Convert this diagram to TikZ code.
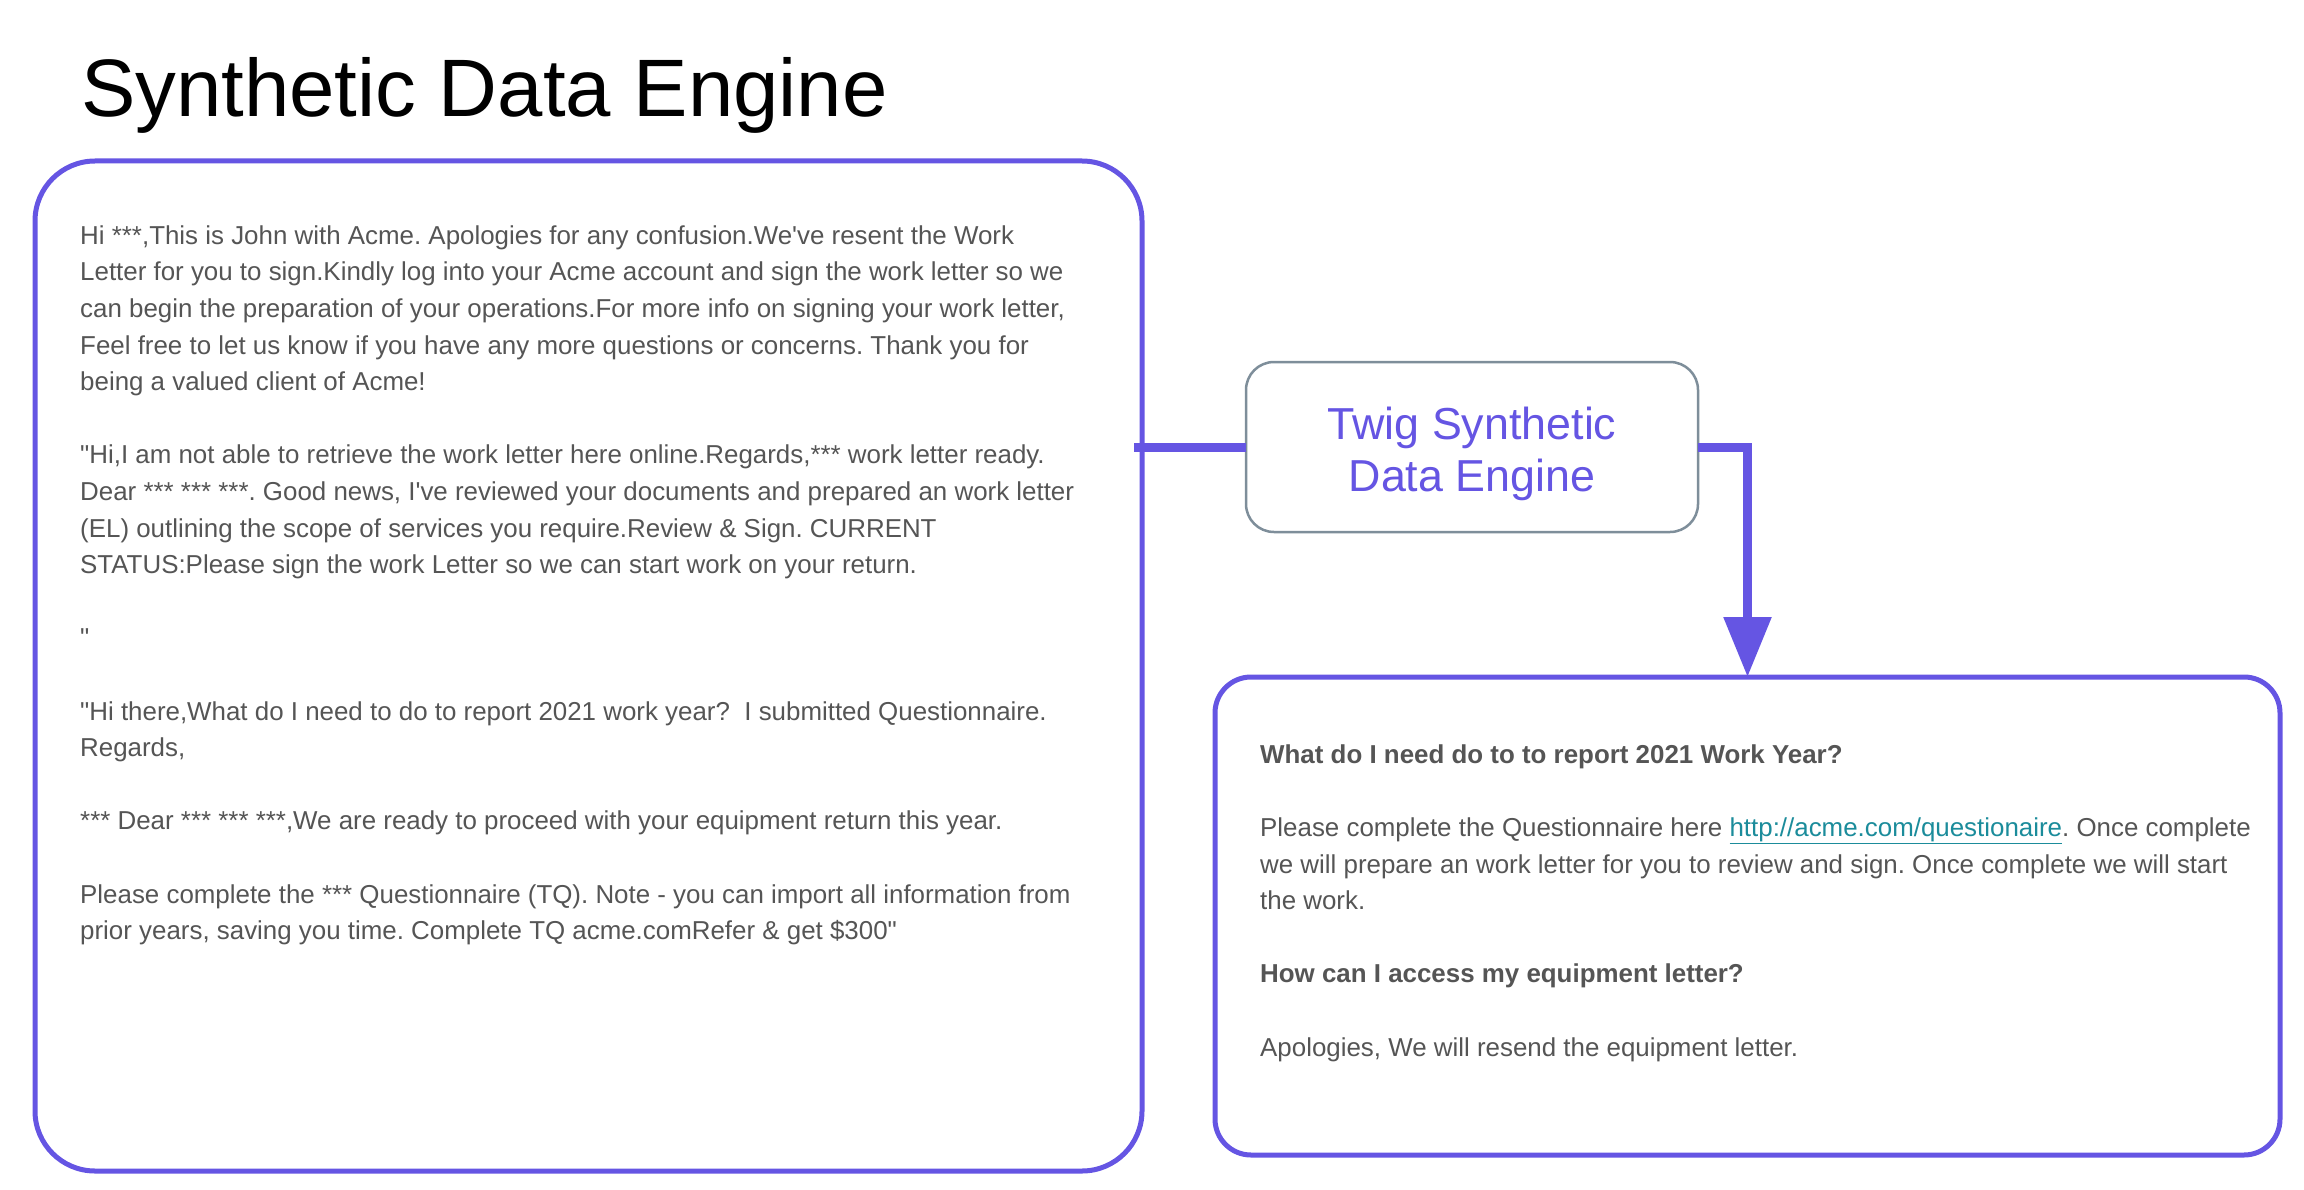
\documentclass[tikz,border=0pt]{standalone}
\usepackage{fontspec}
\setmainfont{Liberation Sans}[Ligatures=TeXOff]
\usepackage{xcolor}
\usetikzlibrary{positioning, arrows.meta}

\definecolor{twigpurple}{HTML}{6555E3}
\definecolor{bodygray}{HTML}{555555}
\definecolor{enginegray}{HTML}{7E8E9A}
\definecolor{linkteal}{HTML}{1B8C9B}
\newcommand{\weblink}[1]{\textcolor{linkteal}{\underline{#1}}}
\frenchspacing

\begin{document}
\begin{tikzpicture}[
    x=1pt, y=-1pt,
    title/.style = {anchor=base west, inner sep=0pt, font=\fontsize{81.5}{90}\selectfont},
    msgbox/.style = {draw=twigpurple, line width=5pt, fill=white, inner sep=0pt, outer sep=0pt},
    engine/.style = {draw=enginegray, line width=2.5pt, rounded corners=28pt, fill=white, align=center, text=twigpurple,
                     minimum width=452pt, minimum height=170pt, inner sep=0pt, outer sep=0pt,
                     font=\fontsize{44.8}{51.6}\selectfont},
    bodytext/.style = {align=left, inner sep=0pt, text=bodygray, font=\fontsize{25.9}{36.6}\selectfont},
    link/.style = {draw=twigpurple, line width=9pt},
    arrow/.style = {link, -{Triangle[width=46pt, length=60pt]}}
]
    \useasboundingbox (0,0) rectangle (2304,1190);

    \node[title] (heading) at (81,117) {Synthetic Data Engine};

    % input messages and generated answers
    \node[msgbox, rounded corners=60pt, minimum width=1107pt, minimum height=1010pt] (inbox) at (588.5,666) {};
    \node[msgbox, rounded corners=36pt, minimum width=1065pt, minimum height=478pt] (outbox) at (1747.5,916) {};
    \node[engine] (engine) at (1472,447) {\rule{0pt}{46pt}Twig Synthetic\\Data Engine};

    \node[bodytext, below right=57.5pt and 45pt of inbox.north west] (intext) {\strut Hi ***,This is John with Acme. Apologies for any confusion.We've resent the Work\\
        Letter for you to sign.Kindly log into your Acme account and sign the work letter so we\\
        can begin the preparation of your operations.For more info on signing your work letter,\\
        Feel free to let us know if you have any more questions or concerns. Thank you for\\
        being a valued client of Acme!\\
        \mbox{}\\
        "Hi,I am not able to retrieve the work letter here online.Regards,*** work letter ready.\\
        Dear *** *** ***. Good news, I've reviewed your documents and prepared an work letter\\
        (EL) outlining the scope of services you require.Review \& Sign. CURRENT\\
        STATUS:Please sign the work Letter so we can start work on your return.\\
        \mbox{}\\
        "\\
        \mbox{}\\
        "Hi there,What do I need to do to report 2021 work year?~ I submitted Questionnaire.\\
        Regards,\\
        \mbox{}\\
        *** Dear *** *** ***,We are ready to proceed with your equipment return this year.\\
        \mbox{}\\
        Please complete the *** Questionnaire (TQ). Note - you can import all information from\\
        prior years, saving you time. Complete TQ acme.comRefer \& get \$300"};

    \node[bodytext, below right=60.5pt and 45pt of outbox.north west] (outtext) {\strut\textbf{What do I need do to to report 2021 Work Year?}\\
        \mbox{}\\
        Please complete the Questionnaire here \weblink{http://acme.com/questionaire}. Once complete\\
        we will prepare an work letter for you to review and sign. Once complete we will start\\
        the work.\\
        \mbox{}\\
        \textbf{How can I access my equipment letter?}\\
        \mbox{}\\
        Apologies, We will resend the equipment letter.};

    \draw[link, shorten >=-8pt] (engine.west) -- (engine.west -| inbox.east);
    \draw[arrow] (engine.east) -| (outbox.north);
\end{tikzpicture}
\end{document}
